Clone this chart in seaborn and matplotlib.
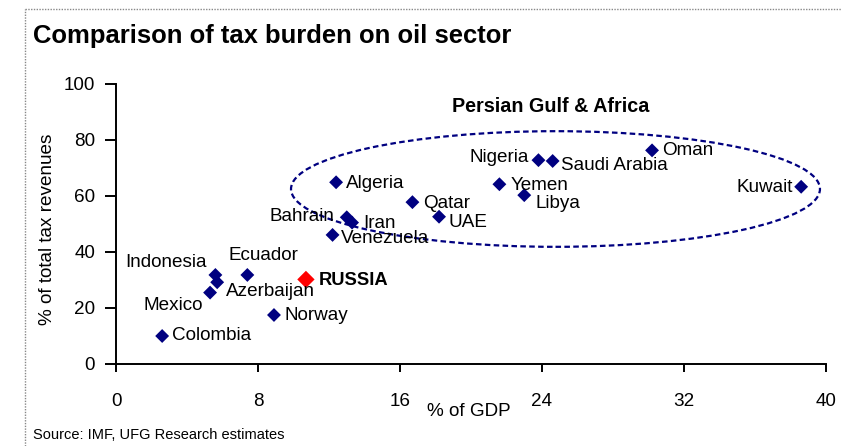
import matplotlib
matplotlib.use("Agg")
import matplotlib.pyplot as plt
from matplotlib import font_manager
from matplotlib.patches import Ellipse
from matplotlib.lines import Line2D
import seaborn as sns
import pandas as pd

# ---- data ----
countries = ["Colombia", "Mexico", "Indonesia", "Azerbaijan", "Ecuador", "Norway",
             "RUSSIA", "Algeria", "Bahrain", "Iran", "Venezuela", "Qatar", "UAE",
             "Nigeria", "Saudi Arabia", "Yemen", "Libya", "Oman", "Kuwait"]
gdp_share = [2.6, 5.3, 5.6, 5.7, 7.4, 8.9,
             10.7, 12.4, 13.0, 13.3, 12.2, 16.7, 18.2,
             23.8, 24.6, 21.6, 23.0, 30.2, 38.6]
tax_share = [10.0, 25.5, 31.8, 29.2, 31.8, 17.5,
             30.2, 64.9, 52.4, 50.5, 46.1, 57.8, 52.6,
             72.8, 72.5, 64.2, 60.3, 76.3, 63.3]
x_ticks = [0, 8, 16, 24, 32, 40]
y_ticks = [0, 20, 40, 60, 80, 100]
title = "Comparison of tax burden on oil sector"
x_label = "% of GDP"
y_label = "% of total tax revenues"
group_label = "Persian Gulf & Africa"
source = "Source: IMF, UFG Research estimates"

df = pd.DataFrame({"country": countries, "gdp": gdp_share, "tax": tax_share})
df["group"] = ["Russia" if c == "RUSSIA" else "Other" for c in countries]

# ---- style ----
sns.set_style("ticks")
names = {f.name for f in font_manager.fontManager.ttflist}
narrow = "Liberation Sans Narrow" in names
FONT = "Liberation Sans Narrow" if narrow else "Liberation Sans"
k = 1.0 if narrow else 0.88
plt.rcParams["font.family"] = [FONT, "DejaVu Sans"]

W, H = 841, 446
fig = plt.figure(figsize=(W / 100, H / 100), dpi=100)
L, R, T, B = 116, 826, 84, 364
ax = fig.add_axes([L / W, (H - B) / H, (R - L) / W, (B - T) / H])

NAVY = "#000080"
sns.scatterplot(data=df, x="gdp", y="tax", hue="group", size="group",
                palette={"Other": NAVY, "Russia": "#FF0000"},
                sizes={"Other": 50, "Russia": 78},
                marker="D", edgecolor="none", linewidth=0, legend=False,
                ax=ax, zorder=3)

ax.set_xlim(0, 40)
ax.set_ylim(0, 100)
ax.set_xticks(x_ticks)
ax.set_yticks(y_ticks)
ax.set_xlabel("")
ax.set_ylabel("")
sns.despine(ax=ax)
for s in ["left", "bottom"]:
    ax.spines[s].set_linewidth(1.4)
    ax.spines[s].set_color("black")
ax.tick_params(axis="y", direction="out", length=8, width=1.4, pad=7,
               labelsize=15.5 * k, colors="black")
ax.tick_params(axis="x", direction="out", length=6, width=1.4, pad=15,
               labelsize=15.5 * k, colors="black")

# ellipse around Persian Gulf & Africa
ell = Ellipse((24.76, 62.5), 29.8, 41.3, fill=False, edgecolor=NAVY,
              linestyle=(0, (2.5, 1.5)), linewidth=1.6, zorder=2)
ax.add_patch(ell)
ax.text(24.5, 91.9, group_label, ha="center", va="center",
        fontsize=14.2, fontweight="bold", color="black")

# labels: (dx px, dy px, ha)
offs = {
    "Colombia": (10, 0, "left"),
    "Mexico": (-7, -13, "right"),
    "Indonesia": (-9, 12, "right"),
    "Azerbaijan": (9, -9, "left"),
    "Ecuador": (16, 19, "center"),
    "Norway": (11, -1, "left"),
    "RUSSIA": (13, -1, "left"),
    "Algeria": (10, -1, "left"),
    "Bahrain": (-12, 1, "right"),
    "Iran": (11, -1, "left"),
    "Venezuela": (8, -4, "left"),
    "Qatar": (11, -1, "left"),
    "UAE": (9, -6, "left"),
    "Nigeria": (-10, 3, "right"),
    "Saudi Arabia": (8, -5, "left"),
    "Yemen": (11, -1, "left"),
    "Libya": (11, -8, "left"),
    "Oman": (10, 0, "left"),
    "Kuwait": (-8, -1, "right"),
}
for c, xv, yv in zip(countries, gdp_share, tax_share):
    dx, dy, ha = offs[c]
    bold = c == "RUSSIA"
    ax.annotate(c, (xv, yv), xytext=(dx, dy), textcoords="offset pixels",
                ha=ha, va="center", fontsize=(15 if bold else 15.5) * k,
                fontweight="bold" if bold else "normal", color="black",
                zorder=4)

# figure-level text
fig.text(33 / W, (H - 43.5) / H, title, ha="left", va="baseline",
         fontsize=21 * k, fontweight="bold", color="black")
fig.text(469 / W, (H - 412) / H, x_label, ha="center", va="center",
         fontsize=15.5 * k, color="black")
fig.text(48 / W, (H - 229) / H, y_label, ha="center", va="center",
         rotation=90, fontsize=15.5 * k, color="black")
fig.text(33 / W, (H - 435) / H, source, ha="left", va="center",
         fontsize=12 * k, color="black")

# dotted frame (top and left)
fig.add_artist(Line2D([25 / W, 1.0], [(H - 9) / H, (H - 9) / H],
                      transform=fig.transFigure, color="#888888",
                      linestyle=(0, (1, 1)), linewidth=1.0))
fig.add_artist(Line2D([25 / W, 25 / W], [0, (H - 9) / H],
                      transform=fig.transFigure, color="#888888",
                      linestyle=(0, (1, 1)), linewidth=1.0))

fig.savefig("out.png", dpi=100, facecolor="white")
